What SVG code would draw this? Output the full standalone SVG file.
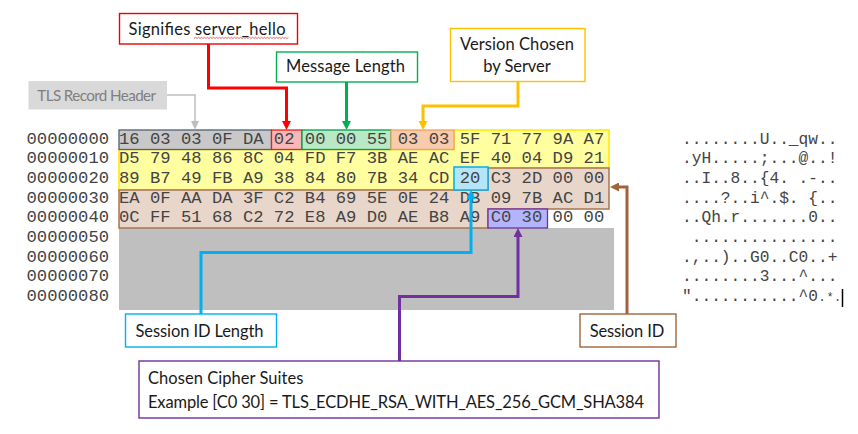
<svg xmlns="http://www.w3.org/2000/svg" width="858" height="434" viewBox="0 0 858 434">
<style>
.hex{font-family:"Liberation Mono",monospace;font-size:17.22px;fill:#444444;white-space:pre}
.asc{font-family:"Liberation Mono",monospace;font-size:16.2px;fill:#444444;white-space:pre}
.tail{font-size:12px}
.lbl{font-family:Lato,"Open Sans",sans-serif;font-size:16.5px;fill:#1a1a1a}
.box{fill:#ffffff;stroke-width:1.4}
.con{fill:none;stroke-width:3}
</style>
<defs>
<marker id="ar-red" viewBox="0 0 9 9" refX="2" refY="4.5" markerWidth="9" markerHeight="9" markerUnits="userSpaceOnUse" orient="auto"><path d="M0,0 L9,4.5 L0,9z" fill="#ff0000"/></marker>
<marker id="ar-green" viewBox="0 0 9 9" refX="2" refY="4.5" markerWidth="9" markerHeight="9" markerUnits="userSpaceOnUse" orient="auto"><path d="M0,0 L9,4.5 L0,9z" fill="#00b050"/></marker>
<marker id="ar-gold" viewBox="0 0 9 9" refX="2" refY="4.5" markerWidth="9" markerHeight="9" markerUnits="userSpaceOnUse" orient="auto"><path d="M0,0 L9,4.5 L0,9z" fill="#ffc000"/></marker>
<marker id="ar-grey" viewBox="0 0 9 9" refX="2" refY="4.5" markerWidth="9" markerHeight="9" markerUnits="userSpaceOnUse" orient="auto"><path d="M0,0.5 L9,4.5 L0,8.5z" fill="#bfbfbf"/></marker>
<marker id="ar-blue" viewBox="0 0 9 9" refX="2" refY="4.5" markerWidth="9" markerHeight="9" markerUnits="userSpaceOnUse" orient="auto"><path d="M0,0 L9,4.5 L0,9z" fill="#00b0f0"/></marker>
<marker id="ar-purple" viewBox="0 0 9 9" refX="2" refY="4.5" markerWidth="9" markerHeight="9" markerUnits="userSpaceOnUse" orient="auto"><path d="M0,0 L9,4.5 L0,9z" fill="#7030a0"/></marker>
<marker id="ar-brown" viewBox="0 0 9 9" refX="2" refY="4.5" markerWidth="9" markerHeight="9" markerUnits="userSpaceOnUse" orient="auto"><path d="M0,0 L9,4.5 L0,9z" fill="#a0643c"/></marker>
</defs>
<rect width="858" height="434" fill="#ffffff"/>

<g id="hexdump">
  <rect x="119" y="228" width="495" height="82" fill="#bfbfbf"/>
  <polygon points="454,130 609,130 609,168 454,168 454,190 119,190 119,149.5 454,149.5" fill="#ffff9f" stroke="#ffe800" stroke-width="1.5"/>
  <polygon points="488,168 609,168 609,209 488,209 488,228 119,228 119,190 488,190" fill="#e9d6cb" stroke="#a87650" stroke-width="1.5"/>
  <rect x="119" y="130" width="152.5" height="19.5" fill="#c8c8c8" stroke="#4f6177" stroke-width="1.3"/>
  <rect x="271.5" y="130" width="30.5" height="19.5" fill="#f6b8b8" stroke="#e82020" stroke-width="1.3"/>
  <rect x="302" y="130" width="89" height="19.5" fill="#b8e8c4" stroke="#00a050" stroke-width="1.3"/>
  <rect x="391" y="130" width="63" height="19.5" fill="#f8cbad" stroke="#f0a060" stroke-width="1.3"/>
  <rect x="454" y="167" width="34" height="23" fill="#b4e4f8" stroke="#00b0f0" stroke-width="1.5"/>
  <rect x="488" y="209" width="59.5" height="19" fill="#b4b4fa" stroke="#7030a0" stroke-width="1.3"/>

  <text class="hex" x="26.5" y="143.5">00000000</text>
  <text class="hex" x="26.5" y="163.2">00000010</text>
  <text class="hex" x="26.5" y="182.9">00000020</text>
  <text class="hex" x="26.5" y="202.6">00000030</text>
  <text class="hex" x="26.5" y="222.3">00000040</text>
  <text class="hex" x="26.5" y="242">00000050</text>
  <text class="hex" x="26.5" y="261.7">00000060</text>
  <text class="hex" x="26.5" y="281.4">00000070</text>
  <text class="hex" x="26.5" y="301.1">00000080</text>

  <text class="hex" x="119" y="143.5">16 03 03 0F DA 02 00 00 55 03 03 5F 71 77 9A A7</text>
  <text class="hex" x="119" y="163.2">D5 79 48 86 8C 04 FD F7 3B AE AC EF 40 04 D9 21</text>
  <text class="hex" x="119" y="182.9">89 B7 49 FB A9 38 84 80 7B 34 CD 20 C3 2D 00 00</text>
  <text class="hex" x="119" y="202.6">EA 0F AA DA 3F C2 B4 69 5E 0E 24 DB 09 7B AC D1</text>
  <text class="hex" x="119" y="222.3">0C FF 51 68 C2 72 E8 A9 D0 AE B8 A9 C0 30 00 00</text>

  <text class="asc" x="682" y="143.5">........U.._qw..</text>
  <text class="asc" x="682" y="163.2">.yH.....;...@..!</text>
  <text class="asc" x="682" y="182.9">..I..8..{4. .-..</text>
  <text class="asc" x="682" y="202.6">....?..i^.$. {..</text>
  <text class="asc" x="682" y="222.3">..Qh.r.......0..</text>
  <text class="asc" x="682" y="242"> ...............</text>
  <text class="asc" x="682" y="261.7">.,..)..G0..C0..+</text>
  <text class="asc" x="682" y="281.4">........3...^...</text>
  <text class="asc" x="682" y="301.1">"...........^0<tspan class="tail" x="818.5">.</tspan><tspan class="tail" x="826.5">*</tspan><tspan class="tail" x="834">.</tspan></text>
  <line x1="842.5" y1="289" x2="842.5" y2="307" stroke="#000000" stroke-width="1.5"/>
</g>

<g id="connectors">
  <path class="con" d="M208.5,44 V88 H286.5 V123" stroke="#ff0000" marker-end="url(#ar-red)"/>
  <path class="con" d="M346.5,82 V123" stroke="#00b050" marker-end="url(#ar-green)"/>
  <path class="con" d="M518,82 V106 H423 V123" stroke="#ffc000" marker-end="url(#ar-gold)"/>
  <path d="M167,95 H195 V123" fill="none" stroke="#bfbfbf" stroke-width="1.5" marker-end="url(#ar-grey)"/>
  <path class="con" d="M201,314 V252.5 H471 V197" stroke="#00b0f0" marker-end="url(#ar-blue)"/>
  <path class="con" d="M399.5,361 V296.5 H518 V235" stroke="#7030a0" marker-end="url(#ar-purple)"/>
  <path class="con" d="M627,314 V187 H617" stroke="#a0643c" marker-end="url(#ar-brown)"/>
</g>

<g id="node-server-hello">
  <rect class="box" x="119.5" y="13.5" width="178" height="30.5" stroke="#ee0000"/>
  <text class="lbl" x="207" y="34.5" text-anchor="middle" textLength="157">Signifies server_hello</text>
  <path d="M194,38.5 l1.5,-1.2 l1.5,1.2 l1.5,-1.2 l1.5,1.2 l1.5,-1.2 l1.5,1.2 l1.5,-1.2 l1.5,1.2 l1.5,-1.2 l1.5,1.2 l1.5,-1.2 l1.5,1.2 l1.5,-1.2 l1.5,1.2 l1.5,-1.2 l1.5,1.2 l1.5,-1.2 l1.5,1.2 l1.5,-1.2 l1.5,1.2 l1.5,-1.2 l1.5,1.2 l1.5,-1.2 l1.5,1.2 l1.5,-1.2 l1.5,1.2 l1.5,-1.2 l1.5,1.2 l1.5,-1.2 l1.5,1.2 l1.5,-1.2 l1.5,1.2 l1.5,-1.2 l1.5,1.2 l1.5,-1.2 l1.5,1.2 l1.5,-1.2 l1.5,1.2 l1.5,-1.2 l1.5,1.2 l1.5,-1.2 l1.5,1.2 l1.5,-1.2 l1.5,1.2 l1.5,-1.2 l1.5,1.2 l1.5,-1.2 l1.5,1.2 l1.5,-1.2 l1.5,1.2 l1.5,-1.2 l1.5,1.2 l1.5,-1.2 l1.5,1.2 l1.5,-1.2 l1.5,1.2 l1.5,-1.2 l1.5,1.2 l1.5,-1.2 l1.5,1.2 l1.5,-1.2 l1.5,1.2 l1.5,-1.2" fill="none" stroke="#e04040" stroke-width="0.8"/>
</g>

<g id="node-message-length">
  <rect class="box" x="276.5" y="52" width="141" height="30" stroke="#00b050"/>
  <text class="lbl" x="345.5" y="72" text-anchor="middle" textLength="119">Message Length</text>
</g>

<g id="node-version">
  <rect class="box" x="450.5" y="28.5" width="134.5" height="53" stroke="#ffc000" stroke-width="2"/>
  <text class="lbl" x="517" y="50" text-anchor="middle" textLength="114">Version Chosen</text>
  <text class="lbl" x="517" y="72" text-anchor="middle" textLength="67.4">by Server</text>
</g>

<g id="node-tls-header">
  <rect x="28.5" y="81" width="138.5" height="28.5" fill="#d9d9d9"/>
  <text class="lbl" x="96.7" y="101" text-anchor="middle" textLength="118.7" style="fill:#808080;font-size:15.2px">TLS Record Header</text>
</g>

<g id="node-session-id-length">
  <rect class="box" x="125.5" y="314" width="151" height="33" stroke="#00b0f0"/>
  <text class="lbl" x="199.5" y="337" text-anchor="middle" textLength="128">Session ID Length</text>
</g>

<g id="node-session-id">
  <rect class="box" x="580" y="314" width="96" height="33" stroke="#a0643c"/>
  <text class="lbl" x="627" y="337" text-anchor="middle" textLength="74.4">Session ID</text>
</g>

<g id="node-cipher">
  <rect class="box" x="139" y="361" width="520" height="57" stroke="#7030a0"/>
  <text class="lbl" x="148" y="383.5" textLength="155.4">Chosen Cipher Suites</text>
  <text class="lbl" x="148" y="407.5" textLength="496">Example [C0 30] = TLS_ECDHE_RSA_WITH_AES_256_GCM_SHA384</text>
</g>
</svg>
